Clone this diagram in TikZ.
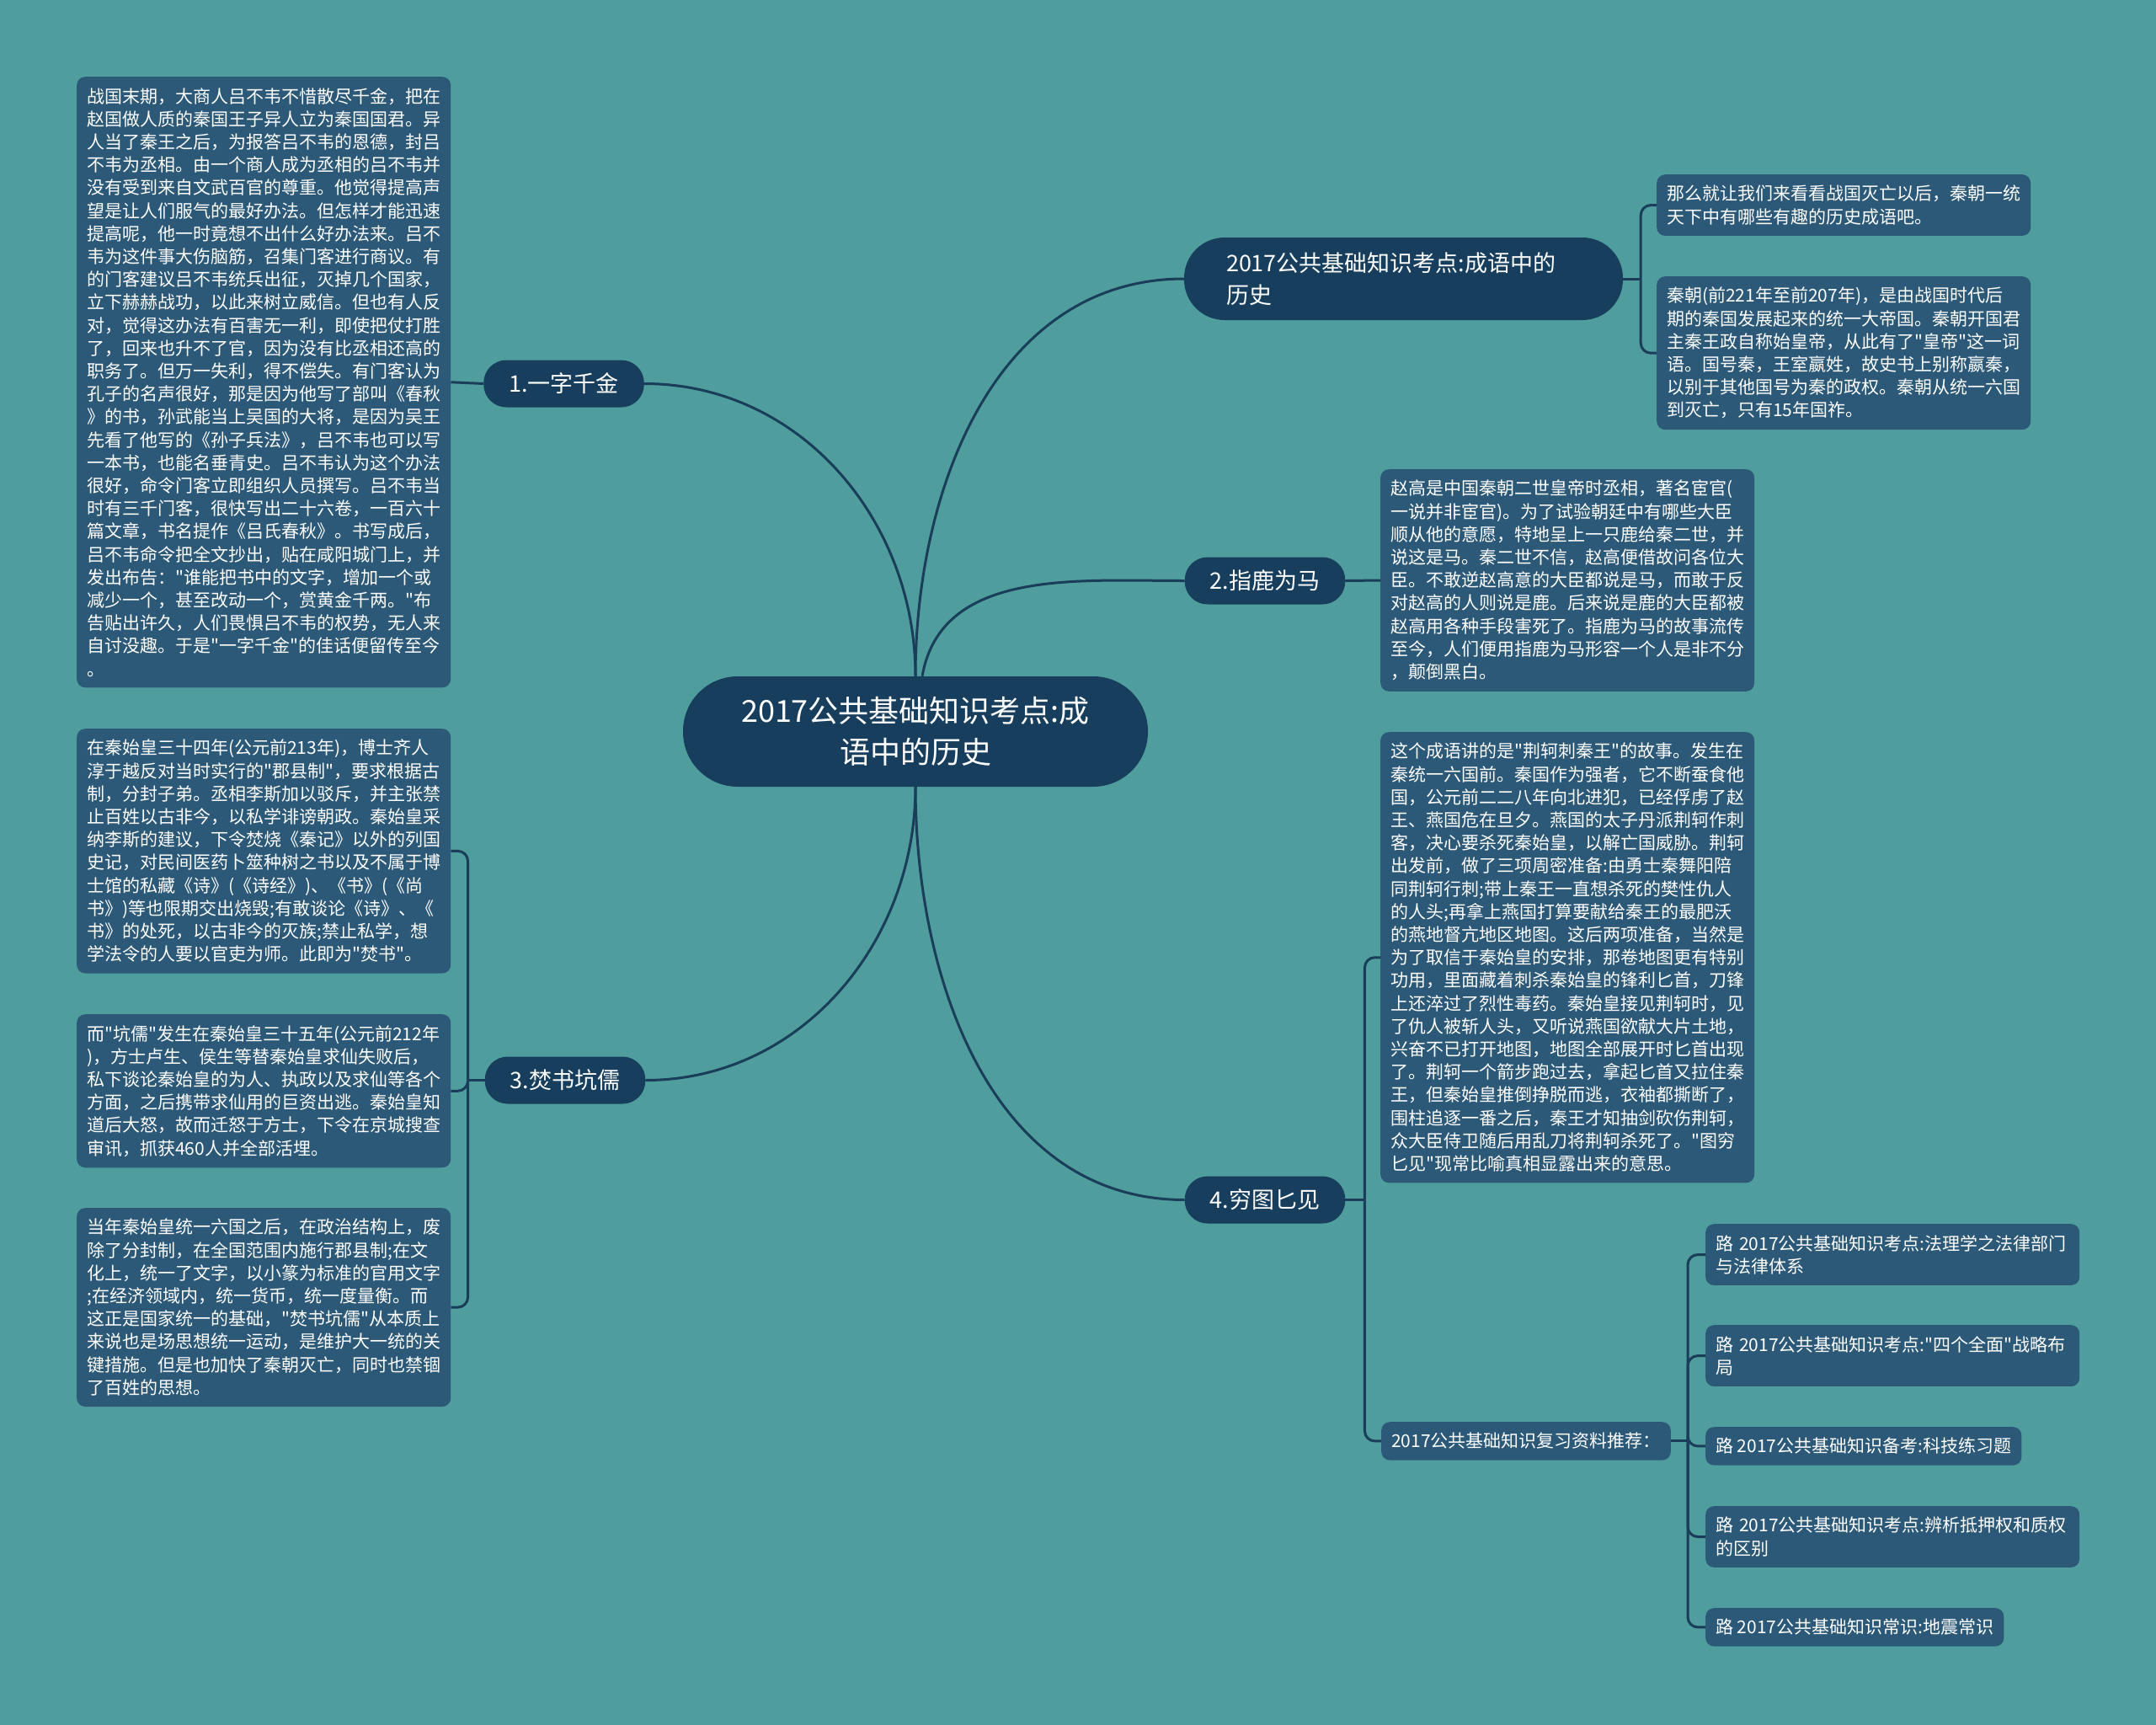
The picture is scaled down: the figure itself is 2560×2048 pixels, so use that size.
\documentclass[tikz,border=0pt]{standalone}
\usepackage{fontspec}
\setmainfont{Noto Sans CJK SC}[Ligatures=TeXOff]
\usepackage{tikz}
\usetikzlibrary{calc}
\definecolor{bgteal}{RGB}{79,157,157}
\definecolor{leafblue}{RGB}{45,89,121}
\definecolor{hubblue}{RGB}{24,62,94}
\definecolor{wireblue}{RGB}{26,61,89}
\tikzset{
  leafbase/.style={
    fill=leafblue,
    text=white,
    rounded corners=10pt,
    inner xsep=12pt,
    inner ysep=13pt,
    anchor=north west,
    font=\fontsize{21}{27.2}\selectfont
  },
  leaf/.style={
    leafbase,
    text width=420pt,
    align=left
  },
  topic/.style={
    fill=hubblue,
    text=white,
    rounded corners=27pt,
    inner xsep=30pt,
    minimum height=56pt,
    font=\fontsize{27}{37.6}\selectfont
  },
  hub/.style={
    fill=hubblue,
    text=white,
    rounded corners=65pt,
    minimum width=552pt,
    minimum height=131pt,
    align=center,
    font=\fontsize{36}{49}\selectfont
  },
  wire/.style={
    draw=wireblue,
    line width=3pt
  },
  every picture/.style={
    x=1pt, y=-1pt
  }
}

\begin{document}
\begin{tikzpicture}
  \fill[bgteal] (0,0) rectangle (2560,2048);
  \useasboundingbox (0,0) rectangle (2560,2048);

  % centre and first level
  \node[hub] (hub) at (1087,868.5) {2017公共基础知识考点:成\\语中的历史};
  \node[topic, rounded corners=48pt, text width=421pt, inner xsep=50pt, minimum height=98pt, align=left] (t0) at (1666.5,331) {2017公共基础知识考点:成语中的\\历史};
  \node[topic] (t1) at (669.5,455.5) {1.一字千金};
  \node[topic] (t2) at (1502,689.5) {2.指鹿为马};
  \node[topic] (t3) at (671,1282.5) {3.焚书坑儒};
  \node[topic] (t4) at (1502,1424.5) {4.穷图匕见};

  % left leaves
  \node[leaf] (l1) at (91,91) {战国末期，大商人吕不韦不惜散尽千金，把在\\
赵国做人质的秦国王子异人立为秦国国君。异\\
人当了秦王之后，为报答吕不韦的恩德，封吕\\
不韦为丞相。由一个商人成为丞相的吕不韦并\\
没有受到来自文武百官的尊重。他觉得提高声\\
望是让人们服气的最好办法。但怎样才能迅速\\
提高呢，他一时竟想不出什么好办法来。吕不\\
韦为这件事大伤脑筋，召集门客进行商议。有\\
的门客建议吕不韦统兵出征，灭掉几个国家，\\
立下赫赫战功，以此来树立威信。但也有人反\\
对，觉得这办法有百害无一利，即使把仗打胜\\
了，回来也升不了官，因为没有比丞相还高的\\
职务了。但万一失利，得不偿失。有门客认为\\
孔子的名声很好，那是因为他写了部叫《春秋\\
》的书，孙武能当上吴国的大将，是因为吴王\\
先看了他写的《孙子兵法》，吕不韦也可以写\\
一本书，也能名垂青史。吕不韦认为这个办法\\
很好，命令门客立即组织人员撰写。吕不韦当\\
时有三千门客，很快写出二十六卷，一百六十\\
篇文章，书名提作《吕氏春秋》。书写成后，\\
吕不韦命令把全文抄出，贴在咸阳城门上，并\\
发出布告："谁能把书中的文字，增加一个或\\
减少一个，甚至改动一个，赏黄金千两。"布\\
告贴出许久，人们畏惧吕不韦的权势，无人来\\
自讨没趣。于是"一字千金"的佳话便留传至今\\
。};
  \node[leaf] (l3a) at (91,865) {在秦始皇三十四年(公元前213年)，博士齐人\\
淳于越反对当时实行的"郡县制"，要求根据古\\
制，分封子弟。丞相李斯加以驳斥，并主张禁\\
止百姓以古非今，以私学诽谤朝政。秦始皇采\\
纳李斯的建议，下令焚烧《秦记》以外的列国\\
史记，对民间医药卜筮种树之书以及不属于博\\
士馆的私藏《诗》(《诗经》)、《书》(《尚\\
书》)等也限期交出烧毁;有敢谈论《诗》、《\\
书》的处死，以古非今的灭族;禁止私学，想\\
学法令的人要以官吏为师。此即为"焚书"。};
  \node[leaf] (l3b) at (91,1204) {而"坑儒"发生在秦始皇三十五年(公元前212年\\
)，方士卢生、侯生等替秦始皇求仙失败后，\\
私下谈论秦始皇的为人、执政以及求仙等各个\\
方面，之后携带求仙用的巨资出逃。秦始皇知\\
道后大怒，故而迁怒于方士，下令在京城搜查\\
审讯，抓获460人并全部活埋。};
  \node[leaf] (l3c) at (91,1434) {当年秦始皇统一六国之后，在政治结构上，废\\
除了分封制，在全国范围内施行郡县制;在文\\
化上，统一了文字，以小篆为标准的官用文字\\
;在经济领域内，统一货币，统一度量衡。而\\
这正是国家统一的基础，"焚书坑儒"从本质上\\
来说也是场思想统一运动，是维护大一统的关\\
键措施。但是也加快了秦朝灭亡，同时也禁锢\\
了百姓的思想。};

  % right leaves
  \node[leaf] (r0a) at (1967,207) {那么就让我们来看看战国灭亡以后，秦朝一统\\
天下中有哪些有趣的历史成语吧。};
  \node[leaf] (r0b) at (1967,328) {秦朝(前221年至前207年)，是由战国时代后\\
期的秦国发展起来的统一大帝国。秦朝开国君\\
主秦王政自称始皇帝，从此有了"皇帝"这一词\\
语。国号秦，王室嬴姓，故史书上别称嬴秦，\\
以别于其他国号为秦的政权。秦朝从统一六国\\
到灭亡，只有15年国祚。};
  \node[leaf] (r2) at (1639,557) {赵高是中国秦朝二世皇帝时丞相，著名宦官(\\
一说并非宦官)。为了试验朝廷中有哪些大臣\\
顺从他的意愿，特地呈上一只鹿给秦二世，并\\
说这是马。秦二世不信，赵高便借故问各位大\\
臣。不敢逆赵高意的大臣都说是马，而敢于反\\
对赵高的人则说是鹿。后来说是鹿的大臣都被\\
赵高用各种手段害死了。指鹿为马的故事流传\\
至今，人们便用指鹿为马形容一个人是非不分\\
，颠倒黑白。};
  \node[leaf] (r4a) at (1639,869) {这个成语讲的是"荆轲刺秦王"的故事。发生在\\
秦统一六国前。秦国作为强者，它不断蚕食他\\
国，公元前二二八年向北进犯，已经俘虏了赵\\
王、燕国危在旦夕。燕国的太子丹派荆轲作刺\\
客，决心要杀死秦始皇，以解亡国威胁。荆轲\\
出发前，做了三项周密准备:由勇士秦舞阳陪\\
同荆轲行刺;带上秦王一直想杀死的樊性仇人\\
的人头;再拿上燕国打算要献给秦王的最肥沃\\
的燕地督亢地区地图。这后两项准备，当然是\\
为了取信于秦始皇的安排，那卷地图更有特别\\
功用，里面藏着刺杀秦始皇的锋利匕首，刀锋\\
上还淬过了烈性毒药。秦始皇接见荆轲时，见\\
了仇人被斩人头，又听说燕国欲献大片土地，\\
兴奋不已打开地图，地图全部展开时匕首出现\\
了。荆轲一个箭步跑过去，拿起匕首又拉住秦\\
王，但秦始皇推倒挣脱而逃，衣袖都撕断了，\\
围柱追逐一番之后，秦王才知抽剑砍伤荆轲，\\
众大臣侍卫随后用乱刀将荆轲杀死了。"图穷\\
匕见"现常比喻真相显露出来的意思。};
  \node[leafbase] (r4b) at (1640,1688) {2017公共基础知识复习资料推荐：};

  % recommended links
  \node[leaf] (k1) at (2025,1453) {路~2017公共基础知识考点:法理学之法律部门\\与法律体系};
  \node[leaf] (k2) at (2025,1573) {路~2017公共基础知识考点:"四个全面"战略布\\局};
  \node[leafbase] (k3) at (2025,1694) {路~2017公共基础知识备考:科技练习题};
  \node[leaf] (k4) at (2025,1788) {路~2017公共基础知识考点:辨析抵押权和质权\\的区别};
  \node[leafbase] (k5) at (2025,1909) {路~2017公共基础知识常识:地震常识};

  % centre to topics
  \draw[wire] (hub.north) to[out=90,in=180] (t0.west);
  \draw[wire] (hub.north) to[out=90,in=0] (t1.east);
  \draw[wire] ([xshift=8pt]hub.north) to[out=80,in=180] (t2.west);
  \draw[wire] (hub.south) to[out=-90,in=0] (t3.east);
  \draw[wire] (hub.south) to[out=-90,in=180] (t4.west);

  % topics to leaves
  \coordinate (j0) at ($(t0.east)+(21,0)$);
  \coordinate (j3) at ($(t3.west)+(-20,0)$);
  \coordinate (j4) at ($(t4.east)+(23,0)$);
  \coordinate (j5) at ($(r4b.east)+(20,0)$);
  \draw[wire] (t1.west) -- (l1.east);
  \draw[wire] (t2.east) -- (r2.west);
  \draw[wire] (t0.east) -- (j0);
  \draw[wire, rounded corners=12pt] (j0) |- (r0a.west);
  \draw[wire, rounded corners=12pt] (j0) |- (r0b.west);
  \draw[wire] (t3.west) -- (j3);
  \draw[wire, rounded corners=12pt] (j3) |- (l3a.east);
  \draw[wire, rounded corners=12pt] (j3) |- (l3b.east);
  \draw[wire, rounded corners=12pt] (j3) |- (l3c.east);
  \draw[wire] (t4.east) -- (j4);
  \draw[wire, rounded corners=12pt] (j4) |- (r4a.west);
  \draw[wire, rounded corners=12pt] (j4) |- (r4b.west);
  \draw[wire] (r4b.east) -- (j5);
  \foreach \k in {k1,k2,k3,k4,k5}
    \draw[wire, rounded corners=12pt] (j5) |- (\k.west);
\end{tikzpicture}
\end{document}
